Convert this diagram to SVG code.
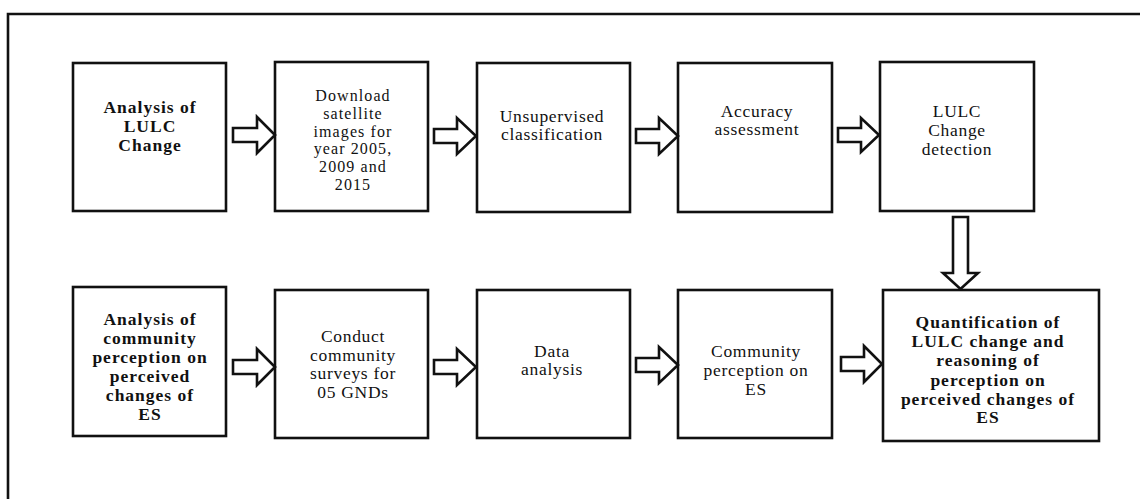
<svg xmlns="http://www.w3.org/2000/svg" width="1140" height="499" viewBox="0 0 1140 499">
<defs>
<style>
.box{fill:#fff;stroke:#111;stroke-width:2.6}
.arr{fill:#fff;stroke:#111;stroke-width:2.6;stroke-linejoin:miter}
.frame{fill:none;stroke:#111;stroke-width:2.6}
text{font-family:"Liberation Serif","DejaVu Serif","Times New Roman",serif;font-size:17.5px;fill:#111;text-anchor:middle;letter-spacing:0.7px}
.b{font-weight:bold;letter-spacing:1px}
.s{font-size:16px;letter-spacing:1.1px}
</style>
</defs>
<rect width="1140" height="499" fill="#fff"/>
<path class="frame" d="M8,499 V14 H1142"/>
<g id="n1"><rect class="box" x="73" y="63" width="153" height="148"/>
<text class="b" x="150" y="113">Analysis of</text><text class="b" x="150" y="132">LULC</text><text class="b" x="150" y="151">Change</text></g>
<g id="n2"><rect class="box" x="275" y="62" width="153" height="149"/>
<text class="s" x="353" y="101">Download</text><text class="s" x="353" y="118.8">satellite</text><text class="s" x="353" y="136.6">images for</text><text class="s" x="353" y="154.4">year 2005,</text><text class="s" x="353" y="172.2">2009 and</text><text class="s" x="353" y="190">2015</text></g>
<g id="n3"><rect class="box" x="477" y="63" width="153" height="149"/>
<text x="552" y="122">Unsupervised</text><text x="552" y="140">classification</text></g>
<g id="n4"><rect class="box" x="678" y="63" width="154" height="149"/>
<text x="757" y="117">Accuracy</text><text x="757" y="135">assessment</text></g>
<g id="n5"><rect class="box" x="880" y="62" width="154" height="149"/>
<text x="957" y="117">LULC</text><text x="957" y="136">Change</text><text x="957" y="155">detection</text></g>
<g id="n6"><rect class="box" x="73" y="287" width="153" height="149"/>
<text class="b" x="150" y="325">Analysis of</text><text class="b" x="150" y="344">community</text><text class="b" x="150" y="363">perception on</text><text class="b" x="150" y="382">perceived</text><text class="b" x="150" y="401">changes of</text><text class="b" x="150" y="420">ES</text></g>
<g id="n7"><rect class="box" x="275" y="290" width="153" height="148"/>
<text x="353" y="342">Conduct</text><text x="353" y="360.5">community</text><text x="353" y="379">surveys for</text><text x="353" y="397.5">05 GNDs</text></g>
<g id="n8"><rect class="box" x="477" y="290" width="153" height="148"/>
<text x="552" y="357">Data</text><text x="552" y="375">analysis</text></g>
<g id="n9"><rect class="box" x="678" y="290" width="154" height="148"/>
<text x="756" y="357">Community</text><text x="756" y="376">perception on</text><text x="756" y="395">ES</text></g>
<g id="n10"><rect class="box" x="883" y="290" width="216" height="151"/>
<text class="b" x="988" y="328">Quantification of</text><text class="b" x="988" y="347">LULC change and</text><text class="b" x="988" y="366">reasoning of</text><text class="b" x="988" y="385.5">perception on</text><text class="b" x="988" y="404.5">perceived changes of</text><text class="b" x="988" y="423">ES</text></g>
<g id="connectors">
<path class="arr" d="M233,128 H257 V117 L275,135 L257,153 V142 H233 Z"/>
<path class="arr" d="M434,129 H457 V118 L476,136 L457,154 V143 H434 Z"/>
<path class="arr" d="M636,129 H659 V118 L678,136 L659,154 V143 H636 Z"/>
<path class="arr" d="M838,128 H861 V118 L879,135 L861,152 V142 H838 Z"/>
<path class="arr" d="M953,217 H968 V273 H978 L960.5,289 L943,273 H953 Z"/>
<path class="arr" d="M233,360 H257 V349 L275,367 L257,385 V374 H233 Z"/>
<path class="arr" d="M434,360 H457 V349 L476,367 L457,385 V374 H434 Z"/>
<path class="arr" d="M636,358 H659 V347 L678,365 L659,383 V372 H636 Z"/>
<path class="arr" d="M841,357 H864 V346 L882,364 L864,382 V371 H841 Z"/>
</g>
</svg>
